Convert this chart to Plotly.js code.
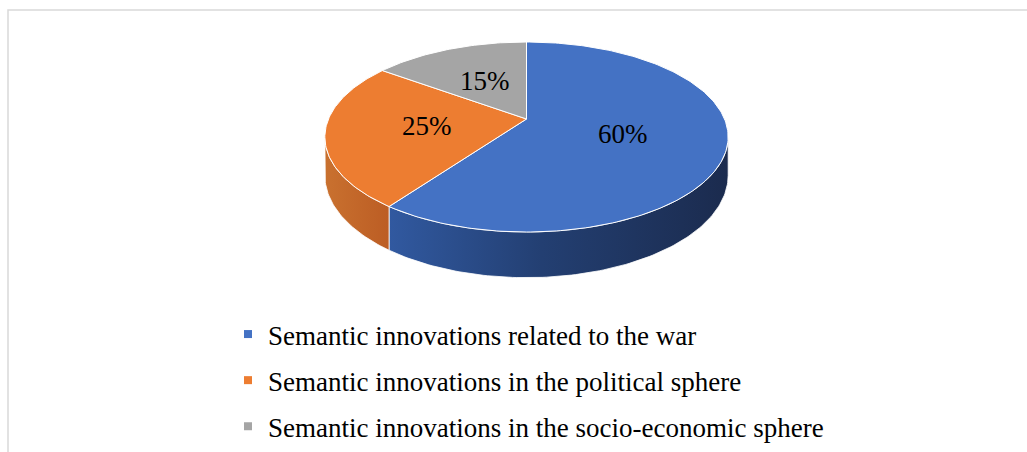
<!DOCTYPE html>
<html>
<head>
<meta charset="utf-8">
<script src="https://cdn.plot.ly/plotly-3.0.1.min.js"></script>
<style>html,body{margin:0;padding:0;background:#fff;}#chart{width:1027px;height:452px;}</style>
</head>
<body>
<div id="chart"></div>
<script>
// ---- data ----
const categories = [
  'Semantic innovations related to the war',
  'Semantic innovations in the political sphere',
  'Semantic innovations in the socio-economic sphere'
];
const values = [60, 25, 15];
const valueLabels = ['60%', '25%', '15%'];

// ---- styling ----
const topColors = ['#4472c4', '#ed7d31', '#a5a5a5'];
const wallScales = [
  [[0, '#3159a0'], [0.45, '#233f72'], [1, '#1b2b4e']],
  [[0, '#c9712f'], [1, '#bc5d24']],
  [[0, '#8a8a8a'], [1, '#7a7a7a']]
];
const FONT = 'Liberation Serif, Times New Roman, serif';

// projection of the tilted pie (perspective)
const CX = 526.5, CY = 119, A = 198, B = 91.6, P = 0.1895, H = 37;
function proj(deg, f, dz) {
  const t = deg * Math.PI / 180;
  const X = f * Math.sin(t), Z = f * Math.cos(t);
  const s = 1 / (1 + P * Z);
  return [CX + A * X * s, CY - B * Z * s + dz * s];
}

const total = values.reduce((a, b) => a + b, 0);
const starts = [];
let acc = 0;
values.forEach(v => { starts.push(acc / total * 360); acc += v; });
const ends = starts.map((s, i) => s + values[i] / total * 360);

const visLo = Math.acos(-P) * 180 / Math.PI;      // left/right silhouette
const visHi = 360 - visLo;

function arc(a, b, dz) {
  const pts = [];
  const n = Math.max(2, Math.ceil(Math.abs(b - a)));
  for (let k = 0; k <= n; k++) pts.push(proj(a + (b - a) * k / n, 1, dz));
  return pts;
}

const traces = [];
// walls
values.forEach((v, i) => {
  const a = Math.max(starts[i], visLo), b = Math.min(ends[i], visHi);
  if (b <= a) return;
  const top = arc(a, b, 0), bot = arc(b, a, H);
  const pts = top.concat(bot);
  pts.push(top[0]);
  const xs = pts.map(p => p[0]), ys = pts.map(p => p[1]);
  traces.push({
    type: 'scatter', mode: 'lines', x: xs, y: ys, fill: 'toself',
    fillcolor: wallScales[i][0][1],
    fillgradient: {type: 'horizontal', colorscale: wallScales[i],
      start: Math.min(...xs), stop: Math.max(...xs)},
    line: {color: '#ffffff', width: 0.8},
    hoverinfo: 'skip', showlegend: false
  });
});
// top faces
values.forEach((v, i) => {
  const pts = [proj(0, 0, 0)].concat(arc(starts[i], ends[i], 0));
  pts.push(proj(0, 0, 0));
  traces.push({
    type: 'scatter', mode: 'lines',
    x: pts.map(p => p[0]), y: pts.map(p => p[1]),
    fill: 'toself', fillcolor: topColors[i],
    line: {color: '#ffffff', width: 1},
    hoverinfo: 'skip', showlegend: false
  });
});
// legend entries
categories.forEach((c, i) => {
  traces.push({
    type: 'scatter', mode: 'markers', x: [null], y: [null],
    name: c, legendgroup: 'g' + i,
    marker: {symbol: 'square', size: 8, color: topColors[i]},
    showlegend: true, hoverinfo: 'skip'
  });
});

// value labels
const annotations = values.map((v, i) => {
  const p = proj((starts[i] + ends[i]) / 2, 0.5, 0);
  return {
    x: p[0], y: p[1], xref: 'x', yref: 'y', text: valueLabels[i],
    showarrow: false, font: {family: FONT, size: 27, color: '#000000'}
  };
});

const layout = {
  width: 1027, height: 452,
  margin: {l: 0, r: 0, t: 0, b: 0},
  paper_bgcolor: '#ffffff', plot_bgcolor: '#ffffff',
  xaxis: {range: [0, 1027], visible: false, fixedrange: true},
  yaxis: {range: [452, 0], visible: false, fixedrange: true},
  showlegend: true,
  legend: {
    x: 228 / 1027, y: 1 - 310 / 452, xanchor: 'left', yanchor: 'top',
    font: {family: FONT, size: 27, color: '#000000'},
    tracegroupgap: 8, bgcolor: 'rgba(0,0,0,0)', itemclick: false
  },
  annotations: annotations,
  shapes: [{
    type: 'rect', xref: 'paper', yref: 'paper',
    x0: 8 / 1027, x1: 1.02, y0: -0.05, y1: 1 - 10 / 452,
    line: {color: '#d9d9d9', width: 1.5}, fillcolor: 'rgba(0,0,0,0)', layer: 'below'
  }]
};

Plotly.newPlot('chart', traces, layout, {staticPlot: true, displayModeBar: false});
</script>
</body>
</html>
